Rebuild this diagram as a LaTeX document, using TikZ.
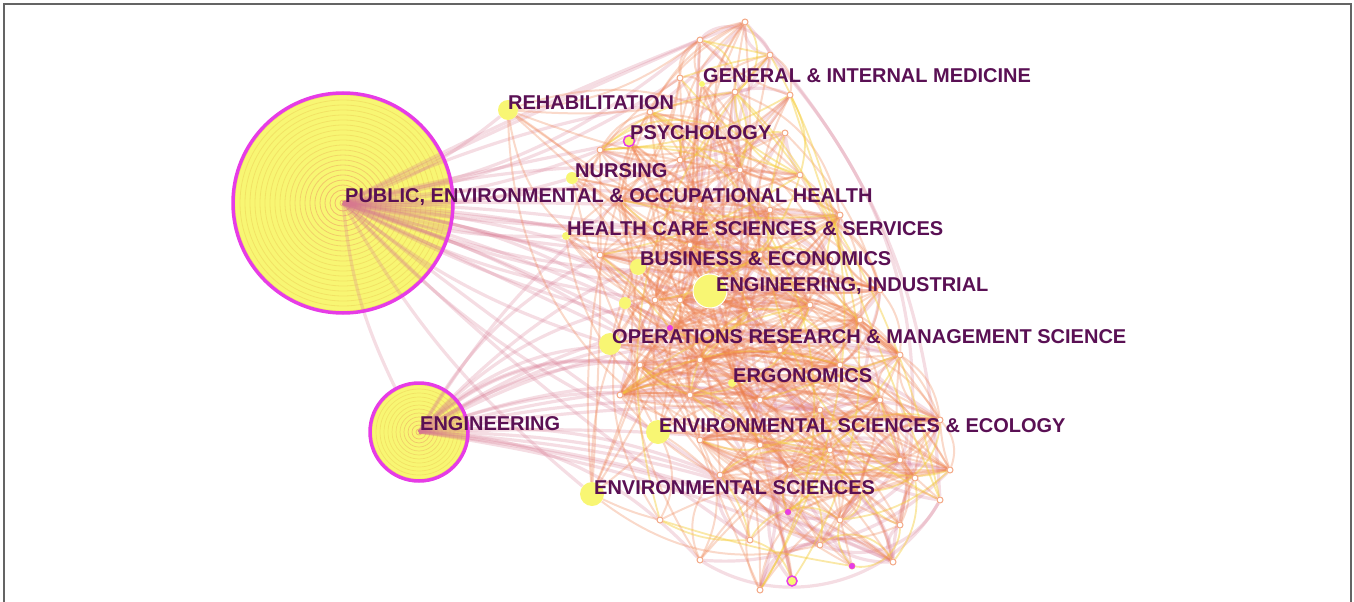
\documentclass[tikz,border=0pt]{standalone}
\usepackage{fontspec}
\setmainfont{Liberation Sans}
\definecolor{labelc}{RGB}{90,16,84}
\definecolor{magc}{RGB}{230,60,230}
\definecolor{nodeyellow}{RGB}{248,246,115}
\definecolor{ringline}{RGB}{240,218,95}
\definecolor{coreorange}{RGB}{240,150,110}
\definecolor{pinkc}{RGB}{215,120,145}
\definecolor{orangec}{RGB}{238,130,80}
\definecolor{yellowc}{RGB}{245,205,60}
\definecolor{framec}{RGB}{100,100,100}
\pgfdeclarelayer{bottom}
\pgfdeclarelayer{edges}
\pgfsetlayers{bottom,edges,main}
\tikzset{%
    lbl/.style={anchor=west, inner sep=0pt, text=labelc,
        font=\fontsize{20}{22}\selectfont\bfseries},
    hub/.style={circle, fill=nodeyellow, inner sep=0pt},
    dot/.style={circle, draw=orangec!70!white, fill=white, line width=1pt,
        inner sep=0pt, minimum size=6pt},
    hotdot/.style={circle, fill=magc, inner sep=0pt, minimum size=6pt},
    pinkedge/.style={draw=pinkc, line width=3.2pt, draw opacity=.25},
    orangeedge/.style={draw=orangec, line width=2pt, draw opacity=.3},
    yellowedge/.style={draw=yellowc, line width=1.8pt, draw opacity=.45}
}
\begin{document}
\begin{tikzpicture}[x=1pt,y=-1pt]
    \useasboundingbox (0,0) rectangle (1354,602);
    \draw[framec, line width=2pt] (4,602) -- (4,4) -- (1351,4) -- (1351,602);
    % big hubs
    \node[circle, minimum size=220pt, inner sep=0pt] (pub) at (343,203) {};
    \node[circle, minimum size=98pt, inner sep=0pt] (eng) at (419,432) {};
    \begin{pgfonlayer}{bottom}
    \fill[nodeyellow] (pub.center) circle (110);
    \foreach \r in {3,8,...,108} {
        \pgfmathtruncatemacro\t{min(100,\r*1.6)}
        \draw[line width=.8pt, ringline!\t!coreorange, draw opacity=.7] (pub.center) circle (\r);
    }
    \fill[nodeyellow] (eng.center) circle (49);
    \foreach \r in {3,7,...,47} {
        \pgfmathtruncatemacro\t{min(100,\r*3.5)}
        \draw[line width=.7pt, ringline!\t!coreorange, draw opacity=.7] (eng.center) circle (\r);
    }
    \end{pgfonlayer}
    \draw[magc, line width=3.5pt] (pub.center) circle (110);
    \draw[magc, line width=3.5pt] (eng.center) circle (49);
    % labelled nodes
    \node[hub, minimum size=20pt] (rehab) at (508,110) {};
    \node[hub, draw=magc, line width=1.5pt, minimum size=11pt] (psy) at (629,141) {};
    \node[hub, minimum size=6pt] (gim) at (702,84) {};
    \node[hub, minimum size=12pt] (nurs) at (572,178) {};
    \node[hub, minimum size=8pt] (hcs) at (566,236) {};
    \node[hub, minimum size=16pt] (bus) at (638,267) {};
    \node[hub, draw=white, line width=1pt, minimum size=34pt] (engind) at (710,291) {};
    \node[hub, minimum size=22pt] (ors) at (610,344) {};
    \node[hub, minimum size=8pt] (ergo) at (732,383) {};
    \node[hub, minimum size=24pt] (ese) at (658,432) {};
    \node[hub, minimum size=24pt] (envs) at (592,494) {};
    \node[hub, minimum size=12pt] (side) at (625,303) {};
    % small nodes of the cluster
    \foreach \n/\x/\y in {1/745/22, 2/700/40, 3/770/55, 4/680/78, 5/735/92,
        6/790/95, 7/650/112, 8/712/125, 9/785/133, 10/600/150, 11/680/160,
        12/740/170, 13/800/175, 14/620/200, 15/700/205, 16/770/210,
        17/840/215, 18/600/255, 19/690/245, 20/760/255, 21/830/260,
        22/880/290, 23/655/300, 24/680/300, 25/750/310, 26/810/305,
        27/860/320, 28/670/328, 29/640/365, 30/700/360, 31/780/350,
        32/840/365, 33/900/355, 34/620/395, 35/690/395, 36/760/400,
        37/820/410, 38/880/400, 39/940/420, 40/700/440, 41/760/445,
        42/830/450, 43/900/460, 44/950/470, 45/720/475, 46/790/470,
        47/860/490, 48/915/478, 49/788/512, 50/840/520, 51/900/525,
        52/700/560, 53/750/540, 54/820/545, 55/852/566, 56/893/562,
        57/792/581, 58/760/590, 59/940/500, 60/660/520}
        \node[dot] (p\n) at (\x,\y) {};
    \node[hotdot] at (p28) {};
    \node[hotdot] at (p49) {};
    \node[hotdot] at (p55) {};
    \node[hub, draw=magc, line width=1.5pt, minimum size=10pt] at (p57) {};
    % links
    \pgfmathsetseed{11}
    \begin{pgfonlayer}{edges}
    \foreach \i in {1,...,30} {
        \pgfmathrandominteger{\a}{1}{54}
        \pgfmathrandominteger{\c}{-15}{15}
        \draw[pinkedge] (pub.center) to[bend left=\c] (p\a);
    }
    \foreach \m in {eng,rehab,nurs,hcs,ese,envs,ors} {
        \draw[pinkedge] (pub.center) to[bend right=10] (\m);
    }
    \foreach \i in {1,...,24} {
        \pgfmathrandominteger{\a}{14}{56}
        \pgfmathrandominteger{\c}{5}{30}
        \draw[pinkedge] (eng.center) to[bend left=\c] (p\a);
    }
    \foreach \i in {1,...,80} {
        \pgfmathrandominteger{\a}{1}{60}
        \pgfmathrandominteger{\d}{1}{12}
        \pgfmathtruncatemacro\b{mod(\a+\d-1,60)+1}
        \pgfmathrandominteger{\c}{-60}{60}
        \draw[pinkedge] (p\a) to[bend left=\c] (p\b);
    }
    \foreach \i in {1,...,200} {
        \pgfmathrandominteger{\a}{1}{48}
        \pgfmathrandominteger{\d}{1}{14}
        \pgfmathtruncatemacro\b{mod(\a+\d-1,60)+1}
        \pgfmathrandominteger{\c}{-45}{45}
        \draw[orangeedge] (p\a) to[bend left=\c] (p\b);
    }
    % dense core
    \foreach \i in {1,...,140} {
        \pgfmathrandominteger{\a}{14}{42}
        \pgfmathrandominteger{\d}{1}{9}
        \pgfmathtruncatemacro\b{\a+\d}
        \pgfmathrandominteger{\c}{-40}{40}
        \draw[orangeedge] (p\a) to[bend left=\c] (p\b);
    }
    \foreach \i in {1,...,70} {
        \pgfmathrandominteger{\a}{1}{60}
        \pgfmathrandominteger{\d}{1}{10}
        \pgfmathtruncatemacro\b{mod(\a+\d-1,60)+1}
        \pgfmathrandominteger{\c}{-50}{50}
        \draw[yellowedge] (p\a) to[bend left=\c] (p\b);
    }
    \foreach \m in {rehab,psy,gim,nurs,hcs,bus,engind,ors,ergo,ese,envs,side} {
        \foreach \i in {1,...,9} {
            \pgfmathrandominteger{\a}{1}{60}
            \pgfmathrandominteger{\c}{-35}{35}
            \draw[orangeedge] (\m) to[bend left=\c] (p\a);
        }
    }
    \end{pgfonlayer}
    % labels
    \node[lbl] (gimlbl) at (703,76) {GENERAL \& INTERNAL MEDICINE};
    \node[lbl] (rehablbl) at (508,103) {REHABILITATION};
    \node[lbl] (psylbl) at (630,133) {PSYCHOLOGY};
    \node[lbl] (nurslbl) at (575,171) {NURSING};
    \node[lbl] (publbl) at (345,197) {PUBLIC, ENVIRONMENTAL \& OCCUPATIONAL HEALTH};
    \node[lbl] (hcslbl) at (567,229) {HEALTH CARE SCIENCES \& SERVICES};
    \node[lbl] (buslbl) at (640,259) {BUSINESS \& ECONOMICS};
    \node[lbl] (engindlbl) at (716,286) {ENGINEERING, INDUSTRIAL};
    \node[lbl] (orslbl) at (612,337) {OPERATIONS RESEARCH \& MANAGEMENT SCIENCE};
    \node[lbl] (ergolbl) at (733,376) {ERGONOMICS};
    \node[lbl] (englbl) at (420,424) {ENGINEERING};
    \node[lbl] (eselbl) at (659,426) {ENVIRONMENTAL SCIENCES \& ECOLOGY};
    \node[lbl] (envslbl) at (594,488) {ENVIRONMENTAL SCIENCES};
\end{tikzpicture}
\end{document}
